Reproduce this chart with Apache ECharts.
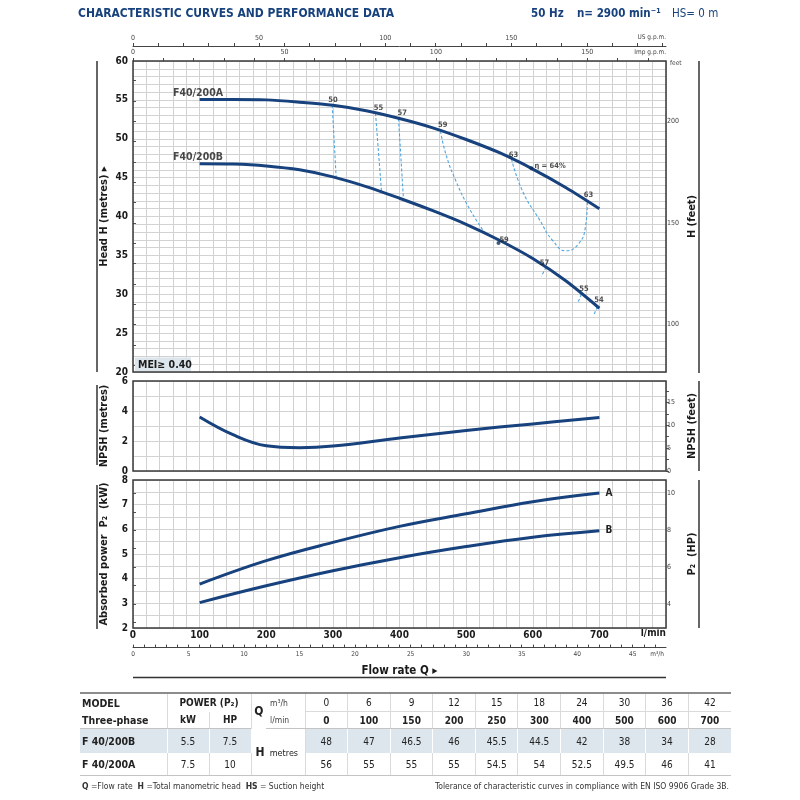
<!DOCTYPE html>
<html>
<head>
<meta charset="utf-8">
<script src="https://cdn.jsdelivr.net/npm/echarts@6/dist/echarts.min.js"></script>
<style>
  body { margin: 0; background: #fff; }
  #chart { position: absolute; left: 0; top: 0; width: 800px; height: 800px; }
  #tbl {
    position: absolute; left: 80px; top: 692px; width: 651px;
    border-collapse: collapse; table-layout: fixed;
    font-family: 'Liberation Sans Narrow', 'DejaVu Sans Condensed', 'Liberation Sans', sans-serif;
    font-size: 10px; color: #222; border-top: 2px solid #8c8c8c;
  }
  #tbl td { padding: 0; text-align: center; white-space: nowrap; border-left: 1px solid #dadada; border-right: 1px solid #dadada; }
  #tbl td.l { text-align: left; padding-left: 2px; border-left: none; font-size: 10.5px; }
  #tbl td.q { border-right: none; font-size: 12px; }
  #tbl td.u { border-left: none; text-align: left; padding-left: 4px; font-size: 8.5px; color: #444; }
  #tbl td.last { border-right: none; }
  #tbl tr.r1 td { height: 17px; }
  #tbl tr.r1 td.v { border-bottom: 1px solid #dadada; }
  #tbl tr.r2 td { height: 16px; border-bottom: 1px solid #c4c4c4; }
  #tbl tr.r3 td { height: 24px; background: #dde6ed; border-left-color: #fff; border-right-color: #fff; }
  #tbl tr.r3 td.hcell { background: #fff; border-left-color: #dadada; border-right-color: #dadada; border-bottom: 1px solid #c4c4c4; text-align: left; padding-left: 4px; font-size: 9px; }
  #tbl tr.r3 td.l { border-left: none; }
  #tbl tr.r4 td { height: 22px; border-bottom: 1px solid #c4c4c4; }
  #tbl .b { font-weight: bold; }
  #foot {
    position: absolute; left: 82px; top: 781px; width: 647px;
    display: flex; justify-content: space-between;
    font-family: 'Liberation Sans Narrow', 'DejaVu Sans Condensed', 'Liberation Sans', sans-serif;
    font-size: 8.5px; color: #333;
  }
</style>
</head>
<body>
<div id="chart"></div>
<table id="tbl"></table>
<div id="foot">
  <span><b>Q</b> =Flow rate&nbsp;&nbsp;<b>H</b> =Total manometric head&nbsp;&nbsp;<b>HS</b> = Suction height</span>
  <span>Tolerance of characteristic curves in compliance with EN ISO 9906 Grade 3B.</span>
</div>
<script>
const FONT = "'Liberation Sans Narrow','DejaVu Sans Condensed','Liberation Sans',sans-serif";
const NAVY = "#17427d";
const GRIDC = "#d2d2d2";
const DASH = "#4ea6e0";

// tabella prestazioni
const tableM3h = [0, 6, 9, 12, 15, 18, 24, 30, 36, 42];
const tableLpm = [0, 100, 150, 200, 250, 300, 400, 500, 600, 700];
const headB = [48, 47, 46.5, 46, 45.5, 44.5, 42, 38, 34, 28];
const headA = [56, 55, 55, 55, 54.5, 54, 52.5, 49.5, 46, 41];
const models = ["F 40/200B", "F 40/200A"];
const motorKW = [5.5, 7.5];
const motorHP = [7.5, 10];

// curve H-Q
const headPlotQ = [100, 150, 200, 250, 300, 350, 400, 450, 500, 550, 600, 650, 700];
const headPlotA = [55.05, 55.05, 55.0, 54.7, 54.3, 53.6, 52.6, 51.4, 49.9, 48.2, 46.1, 43.7, 41.0];
const headPlotB = [46.8, 46.75, 46.5, 46.0, 45.1, 43.85, 42.35, 40.75, 39.0, 36.95, 34.6, 31.7, 28.2];

// NPSH e potenza
const npshQ = [100, 150, 200, 250, 300, 400, 500, 600, 700];
const npshM = [3.6, 2.42, 1.68, 1.55, 1.66, 2.2, 2.7, 3.14, 3.56];
const powerQ = [100, 200, 300, 400, 500, 600, 700];
const powerA = [3.78, 4.73, 5.47, 6.12, 6.63, 7.12, 7.47];
const powerB = [3.03, 3.71, 4.32, 4.85, 5.3, 5.68, 5.94];

// curve di rendimento (Q l/min, H m)
const eff50 = [[299, 54.3], [305, 44.95]];
const eff55 = [[364, 53.3], [373, 43.2]];
const eff57 = [[398.5, 52.6], [406, 42.15]];
const eff59 = [[461.5, 51.0], [470, 47.9], [485, 44.5], [505, 41.0], [528, 37.9]];
const eff63 = [[568, 47.4], [585, 43.2], [610, 39.6], [630, 36.9], [650, 35.6], [668, 36.4], [679, 38.6], [682, 41.9]];
const effStubs = [
  [[620, 33.5], [613, 32.3]],
  [[673, 30.0], [668, 29.0]],
  [[697, 28.4], [692, 27.4]]
];
const effLabelText = ["50", "55", "57", "59", "63", "η = 64%", "63", "59", "57", "55", "54"];
const effLabelQ = [300, 368.5, 404, 465, 571, 626, 683.5, 557, 617.5, 677, 699.5];
const effLabelH = [55.0, 53.9, 53.3, 51.7, 47.9, 46.5, 42.8, 37.0, 34.0, 30.7, 29.3];
const effMarks = [[598, 46.2], [548.6, 36.6]];

const curveNames = ["F40/200A", "F40/200B"];
const curveNameQ = [97.6, 97.6];
const curveNameH = [55.9, 47.6];

// scale secondarie
const feetMin = 76.6, feetMax = 229.6;
const feetLabels = [100, 150, 200];
const npshFeetLabels = [0, 5, 10, 15];
const hpLabels = [4, 6, 8, 10];
const gpmLabels = [0, 50, 100, 150];
const m3hLabels = [0, 5, 10, 15, 20, 25, 30, 35, 40, 45];
const lpmLabels = [0, 100, 200, 300, 400, 500, 600, 700];

function range(a, b, step) {
  const out = [];
  for (let v = a; v <= b + 1e-9; v += step) out.push(+v.toFixed(3));
  return out;
}

const G = [
  { left: 133, top: 61, width: 533, height: 311 },
  { left: 133, top: 381, width: 533, height: 90 },
  { left: 133, top: 480, width: 533, height: 148 }
];

const leftLabel = { color: "#1a1a1a", fontSize: 10, fontWeight: "bold", fontFamily: FONT, margin: 5 };
const smallLabel = { color: "#444", fontSize: 7, fontFamily: FONT };
const titleStyle = { color: "#1a1a1a", fontSize: 11, fontWeight: "bold", fontFamily: FONT };

function lpmAxis(gi, labels) {
  return {
    gridIndex: gi, type: "value", min: 0, max: 800, interval: 20,
    axisLine: { show: false }, axisTick: { show: false },
    axisLabel: labels
      ? { ...leftLabel, margin: 2, customValues: lpmLabels }
      : { show: false },
    splitLine: { show: true, lineStyle: { color: GRIDC, width: 1 } }
  };
}

function leftAxis(gi, min, max, interval, fmt, name) {
  return {
    gridIndex: gi, type: "value", min: min, max: max, interval: interval,
    axisLine: { show: false }, axisTick: { show: false },
    axisLabel: { ...leftLabel, formatter: fmt },
    splitLine: { show: true, lineStyle: { color: GRIDC, width: 1 } },
    name: name, nameLocation: "middle", nameRotate: 90, nameGap: 23, nameMoveOverlap: false,
    nameTextStyle: titleStyle
  };
}

function rightAxis(gi, min, max, ticks, labels, name) {
  return {
    gridIndex: gi, type: "value", position: "right", min: min, max: max,
    axisLine: { show: false },
    axisTick: { show: true, length: 3, customValues: ticks, lineStyle: { color: "#555" } },
    axisLabel: { ...smallLabel, margin: 1, customValues: labels },
    splitLine: { show: false },
    name: name, nameLocation: "middle", nameRotate: 90, nameGap: 21, nameMoveOverlap: false,
    nameTextStyle: titleStyle
  };
}

const dashed = (data, smooth) => ({
  type: "line", xAxisIndex: 0, yAxisIndex: 0, data: data, smooth: smooth ? 0.5 : false,
  symbol: "none", silent: true, z: 3,
  lineStyle: { color: DASH, width: 1.1, type: [3, 2] }
});

const headText = (x, text, bold) => ({
  type: "text", x: x, y: 14, scaleX: 0.92,
  style: { text: text, font: (bold ? "bold " : "") + "12.5px " + FONT, fill: NAVY, verticalAlign: "middle" }
});

const option = {
  animation: false,
  backgroundColor: "#fff",
  grid: G.map(g => ({ ...g, show: false })),
  xAxis: [
    lpmAxis(0, false),
    {
      gridIndex: 0, type: "value", position: "top", offset: 15, min: 0, max: 800 / 3.785411784,
      axisLine: { show: true, lineStyle: { color: "#444", width: 1 } },
      axisTick: { show: true, length: 3, customValues: range(0, 210, 10), lineStyle: { color: "#444" } },
      axisLabel: { ...smallLabel, margin: 4, customValues: gpmLabels },
      splitLine: { show: false }
    },
    {
      gridIndex: 0, type: "value", position: "top", offset: 0, min: 0, max: 800 / 4.54609,
      axisLine: { show: false },
      axisTick: { show: true, length: 3, customValues: range(0, 170, 10), lineStyle: { color: "#444" } },
      axisLabel: { ...smallLabel, margin: 5, customValues: gpmLabels },
      splitLine: { show: false }
    },
    lpmAxis(1, false),
    lpmAxis(2, true),
    {
      gridIndex: 2, type: "value", position: "bottom", offset: 19.6, min: 0, max: 48,
      axisLine: { show: true, lineStyle: { color: "#444", width: 1 } },
      axisTick: { show: true, inside: true, length: 3, customValues: range(0, 47, 1), lineStyle: { color: "#444" } },
      axisLabel: { ...smallLabel, fontSize: 6.5, margin: 3, customValues: m3hLabels },
      splitLine: { show: false },
      name: "Flow rate Q ▸", nameLocation: "middle", nameGap: 17, nameMoveOverlap: false,
      nameTextStyle: { ...titleStyle, fontSize: 11.5 }
    }
  ],
  yAxis: [
    leftAxis(0, 20, 60, 1, v => (v % 5 === 0 ? v : ""), "Head H (metres) ▸"),
    rightAxis(0, feetMin, feetMax, range(80, 220, 10), feetLabels, "H (feet)"),
    leftAxis(1, 0, 6, 1, v => (v % 2 === 0 ? v : ""), "NPSH (metres)"),
    rightAxis(1, 0, 6 / 0.3048, range(0, 17.5, 2.5), npshFeetLabels, "NPSH (feet)"),
    leftAxis(2, 2, 8, 0.5, v => (Number.isInteger(v) ? v : ""), "Absorbed power  P₂  (kW)"),
    rightAxis(2, 2 / 0.7457, 8 / 0.7457, range(3, 10, 1), hpLabels, "P₂  (HP)")
  ],
  series: [
    {
      name: "A", type: "line", xAxisIndex: 0, yAxisIndex: 0, data: headPlotQ.map((q, i) => [q, headPlotA[i]]),
      smooth: 0.3, symbol: "none", z: 5, lineStyle: { color: NAVY, width: 3 }
    },
    {
      name: "B", type: "line", xAxisIndex: 0, yAxisIndex: 0, data: headPlotQ.map((q, i) => [q, headPlotB[i]]),
      smooth: 0.3, symbol: "none", z: 5, lineStyle: { color: NAVY, width: 3 }
    },
    dashed(eff50, false),
    dashed(eff55, false),
    dashed(eff57, false),
    dashed(eff59, true),
    dashed(eff63, true),
    ...effStubs.map(s => dashed(s, false)),
    {
      type: "scatter", xAxisIndex: 0, yAxisIndex: 0, symbolSize: 1, silent: true, z: 6,
      itemStyle: { color: "rgba(0,0,0,0)" },
      data: effLabelQ.map((q, i) => ({ value: [q, effLabelH[i]], name: effLabelText[i] })),
      label: { show: true, position: "inside", formatter: "{b}", fontSize: 7.5, fontWeight: "bold", color: "#222", fontFamily: FONT }
    },
    {
      type: "scatter", xAxisIndex: 0, yAxisIndex: 0, symbolSize: 1, silent: true, z: 6,
      itemStyle: { color: "rgba(0,0,0,0)" },
      data: curveNameQ.map((q, i) => ({ value: [q, curveNameH[i]], name: curveNames[i] })),
      label: { show: true, position: "inside", formatter: "{b}", fontSize: 10.5, fontWeight: "bold", color: "#1a1a1a", fontFamily: FONT }
    },
    {
      type: "scatter", xAxisIndex: 0, yAxisIndex: 0, symbol: "circle", symbolSize: 4, silent: true, z: 7,
      itemStyle: { color: "#0e2f5e" }, data: effMarks
    },
    {
      type: "line", xAxisIndex: 3, yAxisIndex: 2, data: npshQ.map((q, i) => [q, npshM[i]]),
      smooth: 0.4, symbol: "none", lineStyle: { color: NAVY, width: 3 }
    },
    {
      type: "line", xAxisIndex: 4, yAxisIndex: 4, data: powerQ.map((q, i) => [q, powerA[i]]),
      smooth: 0.4, symbol: "none", lineStyle: { color: NAVY, width: 3 },
      endLabel: { show: true, formatter: "A", distance: 6, fontSize: 10, fontWeight: "bold", color: "#222", fontFamily: FONT }
    },
    {
      type: "line", xAxisIndex: 4, yAxisIndex: 4, data: powerQ.map((q, i) => [q, powerB[i]]),
      smooth: 0.4, symbol: "none", lineStyle: { color: NAVY, width: 3 },
      endLabel: { show: true, formatter: "B", distance: 6, fontSize: 10, fontWeight: "bold", color: "#222", fontFamily: FONT }
    }
  ],
  graphic: [
    { type: "text", x: 78, y: 14, scaleX: 0.92, style: { text: "CHARACTERISTIC CURVES AND PERFORMANCE DATA", font: "bold 13px " + FONT, fill: NAVY, verticalAlign: "middle" } },
    headText(531, "50 Hz", true),
    headText(577, "n= 2900 min⁻¹", true),
    headText(672, "HS= 0 m", false),
    { type: "text", x: 666, y: 37, style: { text: "US g.p.m.", font: "6.5px " + FONT, fill: "#444", align: "right", verticalAlign: "middle" } },
    { type: "text", x: 666, y: 52.5, style: { text: "Imp g.p.m.", font: "6.5px " + FONT, fill: "#444", align: "right", verticalAlign: "middle" } },
    { type: "text", x: 670, y: 63.5, style: { text: "feet", font: "6.5px " + FONT, fill: "#444", verticalAlign: "middle" } },
    { type: "text", x: 666, y: 633.5, style: { text: "l/min", font: "bold 10px " + FONT, fill: "#1a1a1a", align: "right", verticalAlign: "middle" } },
    { type: "text", x: 664, y: 654, style: { text: "m³/h", font: "6.5px " + FONT, fill: "#444", align: "right", verticalAlign: "middle" } },
    // cornici dei tre grafici
    ...G.map(g => ({ type: "rect", z: 100, shape: { x: g.left, y: g.top, width: g.width, height: g.height }, style: { fill: "none", stroke: "#3a3a3a", lineWidth: 1.5 } })),
    // barre laterali dei titoli
    ...[[61, 372], [385, 465], [485, 629]].map(r => ({ type: "line", shape: { x1: 97, y1: r[0], x2: 97, y2: r[1] }, style: { stroke: "#333", lineWidth: 1.5 } })),
    ...[[61, 373], [381, 471], [480, 628]].map(r => ({ type: "line", shape: { x1: 699, y1: r[0], x2: 699, y2: r[1] }, style: { stroke: "#333", lineWidth: 1.5 } })),
    { type: "line", shape: { x1: 133, y1: 677.5, x2: 666, y2: 677.5 }, style: { stroke: "#333", lineWidth: 1.5 } },
    // MEI
    { type: "rect", z: 90, shape: { x: 135, y: 357.5, width: 56, height: 14 }, style: { fill: "#dde5ec" } },
    { type: "text", z: 91, x: 138, y: 365, style: { text: "MEI≥ 0.40", font: "bold 10.5px " + FONT, fill: "#1a1a1a", verticalAlign: "middle" } }
  ]
};

const chart = echarts.init(document.getElementById("chart"));
chart.setOption(option);

// tabella dati
let html = '<colgroup><col style="width:87px"><col style="width:42px"><col style="width:42px"><col style="width:15px"><col style="width:39px">'
  + tableM3h.map(() => '<col style="width:42.6px">').join("") + "</colgroup>";
const cells = (arr, cls) => arr.map((v, i) => `<td class="${cls}${i === arr.length - 1 ? " last" : ""}">${v}</td>`).join("");
html += '<tr class="r1"><td class="b l">MODEL</td><td class="b" colspan="2">POWER (P₂)</td><td class="b q" rowspan="2">Q</td><td class="u">m³/h</td>' + cells(tableM3h, "v") + "</tr>";
html += '<tr class="r2"><td class="b l">Three-phase</td><td class="b">kW</td><td class="b">HP</td><td class="u">l/min</td>' + cells(tableLpm, "b") + "</tr>";
html += `<tr class="r3"><td class="b l">${models[0]}</td><td>${motorKW[0]}</td><td>${motorHP[0]}</td><td class="hcell" colspan="2" rowspan="2"><b style="font-size:12px">H</b>&nbsp; metres</td>` + cells(headB, "") + "</tr>";
html += `<tr class="r4"><td class="b l">${models[1]}</td><td>${motorKW[1]}</td><td>${motorHP[1]}</td>` + cells(headA, "") + "</tr>";
document.getElementById("tbl").innerHTML = html;
</script>
</body>
</html>
